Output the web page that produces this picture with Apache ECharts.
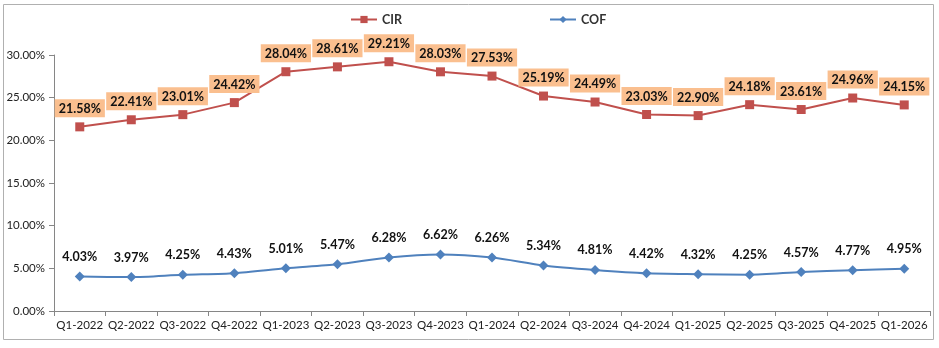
<!DOCTYPE html>
<html><head><meta charset="utf-8">
<script src="https://cdn.jsdelivr.net/npm/echarts@6/dist/echarts.min.js"></script>
<style>html,body{margin:0;padding:0;background:#fff}#c{width:939px;height:348px}</style>
</head><body><div id="c"></div>
<script>
const categories = ['Q1-2022','Q2-2022','Q3-2022','Q4-2022','Q1-2023','Q2-2023','Q3-2023','Q4-2023','Q1-2024','Q2-2024','Q3-2024','Q4-2024','Q1-2025','Q2-2025','Q3-2025','Q4-2025','Q1-2026'];
const cir = [21.58,22.41,23.01,24.42,28.04,28.61,29.21,28.03,27.53,25.19,24.49,23.03,22.90,24.18,23.61,24.96,24.15];
const cof = [4.03,3.97,4.25,4.43,5.01,5.47,6.28,6.62,6.26,5.34,4.81,4.42,4.32,4.25,4.57,4.77,4.95];
const yTicks = [0,5,10,15,20,25,30];
const FONT = 'Lato, "Liberation Sans", sans-serif';
const chart = echarts.init(document.getElementById('c'));
chart.setOption({
  animation:false,
  textStyle:{fontFamily:FONT},
  graphic:[{type:'rect',shape:{x:3.5,y:4.5,width:930,height:335},style:{fill:'none',stroke:'#b0b0b0',lineWidth:1},silent:true}],
  legend:{left:345,top:8,itemWidth:26,itemHeight:9,itemGap:147,
    textStyle:{fontFamily:FONT,fontSize:12.5,fontWeight:'bold',color:'#333'},
    data:['CIR','COF']},
  grid:{left:54,right:9,top:55,bottom:37},
  xAxis:{type:'category',data:categories,boundaryGap:true,
    axisLine:{lineStyle:{color:'#868686'}},
    axisTick:{show:true,alignWithLabel:false,length:5,lineStyle:{color:'#868686'}},
    axisLabel:{fontFamily:FONT,fontSize:11.5,color:'#222',margin:8,interval:0}},
  yAxis:{type:'value',min:0,max:30,interval:5,
    axisLine:{show:true,lineStyle:{color:'#868686'}},
    axisTick:{show:true,inside:false,length:5,lineStyle:{color:'#868686'}},
    splitLine:{show:false},
    axisLabel:{fontFamily:FONT,fontSize:11.5,color:'#222',margin:9,
      formatter:v=>yTicks.indexOf(v)>=0? v.toFixed(2)+'%':''}},
  series:[
    {name:'CIR',type:'line',data:cir,color:'#C0504D',symbol:'rect',symbolSize:9,
      lineStyle:{width:2,color:'#C0504D'},itemStyle:{color:'#C0504D'},
      label:{show:true,position:'top',distance:5,formatter:p=>p.value.toFixed(2)+'%',
        fontFamily:FONT,fontSize:12.5,fontWeight:'bold',color:'#111',
        backgroundColor:'#FABF8F',padding:[3,4,2,4]}},
    {name:'COF',type:'line',data:cof,color:'#4F81BD',symbol:'diamond',symbolSize:10,smooth:0.25,
      lineStyle:{width:2,color:'#4F81BD'},itemStyle:{color:'#4F81BD'},
      label:{show:true,position:'top',distance:8,formatter:p=>p.value.toFixed(2)+'%',
        fontFamily:FONT,fontSize:12.5,fontWeight:'bold',color:'#111'}}
  ]
});
</script></body></html>
